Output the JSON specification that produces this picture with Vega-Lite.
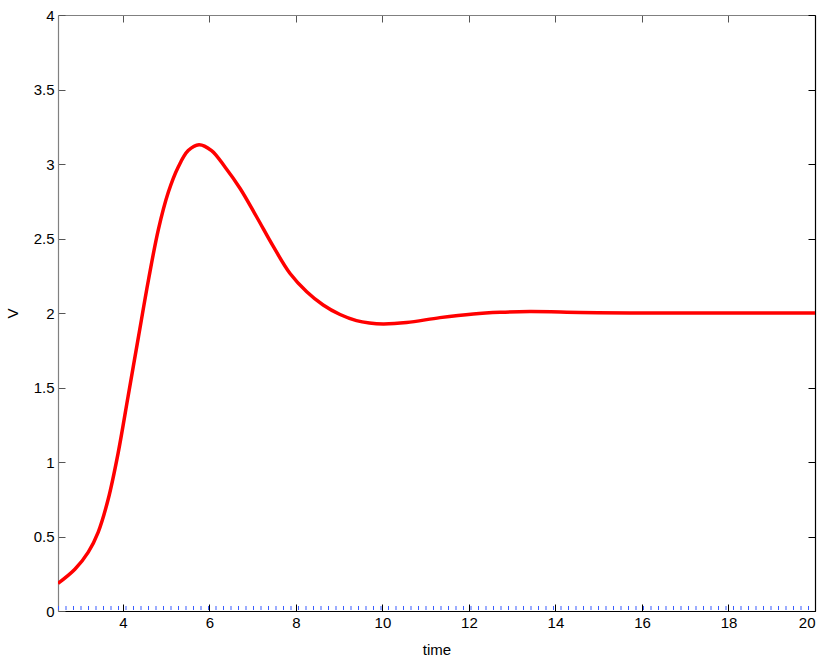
{
  "$schema": "https://vega.github.io/schema/vega-lite/v6.json",
  "width": 757,
  "height": 596,
  "autosize": "none",
  "padding": {"left": 58, "top": 15, "right": 15, "bottom": 49},
  "background": "white",
  "config": {
    "view": {"stroke": null},
    "font": "Liberation Sans",
    "axis": {"grid": false, "labelFont": "Liberation Sans", "titleFont": "Liberation Sans", "labelFontSize": 15, "titleFontSize": 15, "labelColor": "#000", "titleColor": "#000", "titleFontWeight": "normal", "tickWidth": 1, "domainWidth": 1.2}
  },
  "datasets": {
    "red": [
      {"time": 2.5, "V": 0.185},
      {"time": 2.89, "V": 0.28},
      {"time": 3.2, "V": 0.395},
      {"time": 3.43, "V": 0.53},
      {"time": 3.66, "V": 0.75},
      {"time": 3.89, "V": 1.06},
      {"time": 4.12, "V": 1.44},
      {"time": 4.36, "V": 1.84},
      {"time": 4.59, "V": 2.22},
      {"time": 4.82, "V": 2.56},
      {"time": 5.05, "V": 2.81},
      {"time": 5.28, "V": 2.98},
      {"time": 5.51, "V": 3.09},
      {"time": 5.76, "V": 3.13},
      {"time": 6.05, "V": 3.09},
      {"time": 6.36, "V": 2.98},
      {"time": 6.71, "V": 2.836},
      {"time": 7.09, "V": 2.646},
      {"time": 7.48, "V": 2.445},
      {"time": 7.86, "V": 2.267},
      {"time": 8.25, "V": 2.143},
      {"time": 8.63, "V": 2.054},
      {"time": 9.02, "V": 1.99},
      {"time": 9.4, "V": 1.949},
      {"time": 9.7, "V": 1.933},
      {"time": 10.02, "V": 1.927},
      {"time": 10.56, "V": 1.936},
      {"time": 11.33, "V": 1.969},
      {"time": 12.1, "V": 1.994},
      {"time": 12.72, "V": 2.005},
      {"time": 13.41, "V": 2.01},
      {"time": 14.57, "V": 2.004},
      {"time": 15.72, "V": 2.0},
      {"time": 17.0, "V": 2.0},
      {"time": 20.0, "V": 2.0}
    ],
    "blue": [
      {"time": 2.5, "V": 0.02},
      {"time": 20.0, "V": 0.02}
    ]
  },
  "layer": [
    {
      "data": {"name": "red"},
      "mark": {"type": "line", "color": "#ff0000", "strokeWidth": 3.5, "interpolate": "catmull-rom", "clip": true},
      "encoding": {
        "x": {"field": "time", "type": "quantitative",
          "scale": {"domain": [2.5, 20], "nice": false, "zero": false},
          "axis": {"orient": "bottom", "title": "time", "values": [4, 6, 8, 10, 12, 14, 16, 18, 20], "format": "~g",
            "tickSize": -7, "tickColor": "#000", "domainColor": "#000", "labelPadding": 11, "titleY": 38, "titleBaseline": "middle"}},
        "y": {"field": "V", "type": "quantitative",
          "scale": {"domain": [0, 4], "nice": false, "zero": false},
          "axis": {"orient": "left", "title": "V", "values": [0, 0.5, 1, 1.5, 2, 2.5, 3, 3.5, 4], "format": "~g",
            "tickSize": -7, "tickColor": "#555", "domainColor": "#808080", "labelPadding": 11,
            "titleX": -46, "titleY": 298, "titleAngle": 270, "titleBaseline": "middle", "titleAlign": "center"}}
      }
    },
    {
      "data": {"name": "blue"},
      "mark": {"type": "line", "color": "#3a5cff", "strokeWidth": 4, "strokeDash": [1, 6.5], "strokeCap": "butt"},
      "encoding": {
        "x": {"field": "time", "type": "quantitative",
          "axis": {"orient": "top", "title": null, "labels": false, "values": [4, 6, 8, 10, 12, 14, 16, 18, 20],
            "tickSize": -7, "tickColor": "#555", "domainColor": "#808080"}},
        "y": {"field": "V", "type": "quantitative",
          "axis": {"orient": "right", "title": null, "labels": false, "values": [0, 0.5, 1, 1.5, 2, 2.5, 3, 3.5, 4],
            "tickSize": -7, "tickColor": "#000", "domainColor": "#000"}}
      }
    }
  ],
  "resolve": {"axis": {"x": "independent", "y": "independent"}}
}
